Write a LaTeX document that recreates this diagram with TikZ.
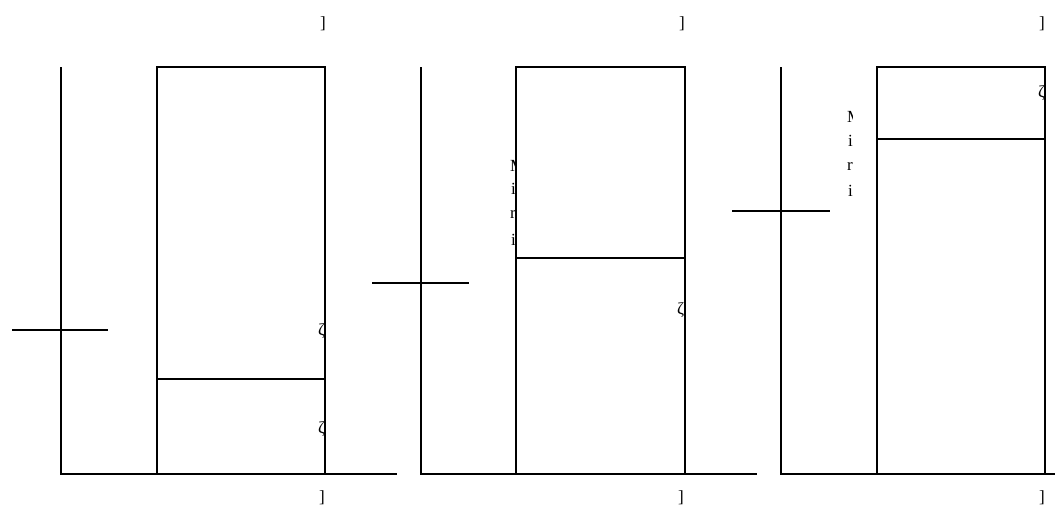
\documentclass[tikz,border=0pt]{standalone}
\usepackage{fontspec}
\setmainfont{Liberation Serif}
\begin{document}
\begin{tikzpicture}[x=1pt,y=-1pt,
  axis/.style={line width=1.3pt},
  box/.style={line width=1.3pt},
  tick/.style={line width=1.3pt},
  lbl/.style={inner sep=0pt,font=\fontsize{17}{17}\selectfont}]
\useasboundingbox (0,0) rectangle (1055,506);
% ---- panel 1
\coordinate (a1t) at (61,67); \coordinate (a1o) at (61,474); \coordinate (a1r) at (397,474);
\draw[axis] (a1t) -- (a1o) -- (a1r);
\draw[box] (157,67) rectangle (325,474);
\coordinate (l1a) at (157,379); \coordinate (l1b) at (325,379);
\draw[box] (l1a) -- (l1b);
\coordinate (t1a) at (12,330); \coordinate (t1b) at (108,330);
\draw[tick] (t1a) -- (t1b);
% ---- panel 2
\coordinate (a2t) at (421,67); \coordinate (a2o) at (421,474); \coordinate (a2r) at (757,474);
\draw[axis] (a2t) -- (a2o) -- (a2r);
\draw[box] (516,67) rectangle (685,474);
\coordinate (l2a) at (516,258); \coordinate (l2b) at (685,258);
\draw[box] (l2a) -- (l2b);
\coordinate (t2a) at (372,283); \coordinate (t2b) at (469,283);
\draw[tick] (t2a) -- (t2b);
% ---- panel 3
\coordinate (a3t) at (781,67); \coordinate (a3o) at (781,474); \coordinate (a3r) at (1055,474);
\draw[axis] (a3t) -- (a3o) -- (a3r);
\draw[box] (877,67) rectangle (1045,474);
\coordinate (l3a) at (877,139); \coordinate (l3b) at (1045,139);
\draw[box] (l3a) -- (l3b);
\coordinate (t3a) at (732,211); \coordinate (t3b) at (830,211);
\draw[tick] (t3a) -- (t3b);
% ---- top / bottom labels
\node[lbl] (u1) at (323,24) {]};
\node[lbl] (d1) at (322,498) {]};
\node[lbl] (u2) at (682,24) {]};
\node[lbl] (d2) at (681,498) {]};
\node[lbl] (u3) at (1042,24) {]};
\node[lbl] (d3) at (1042,498) {]};
% ---- clipped glyphs at right edges
\begin{scope}
\clip (317,318) rectangle (324,344);
\node[lbl,anchor=west] (g1) at (318,331) {ζ};
\end{scope}
\begin{scope}
\clip (317,416) rectangle (324,442);
\node[lbl,anchor=west] (g2) at (318,429) {ζ};
\end{scope}
\begin{scope}
\clip (676,297) rectangle (684,323);
\node[lbl,anchor=west] (g3) at (677,310) {ζ};
\end{scope}
\begin{scope}
\clip (1037,80) rectangle (1044,106);
\node[lbl,anchor=west] (g4) at (1038,93) {ζ};
\end{scope}
% ---- clipped vertical text
\begin{scope}
\clip (508,150) rectangle (515,252);
\node[lbl,anchor=west] (m2a) at (510,166) {M};
\node[lbl,anchor=west] (m2b) at (511,189) {i};
\node[lbl,anchor=west] (m2c) at (510,214) {r};
\node[lbl,anchor=west] (m2d) at (511,240) {i};
\end{scope}
\begin{scope}
\clip (845,100) rectangle (852,202);
\node[lbl,anchor=west] (m3a) at (847,117) {M};
\node[lbl,anchor=west] (m3b) at (848,141) {i};
\node[lbl,anchor=west] (m3c) at (847,166) {r};
\node[lbl,anchor=west] (m3d) at (848,191) {i};
\end{scope}
\end{tikzpicture}
\end{document}
